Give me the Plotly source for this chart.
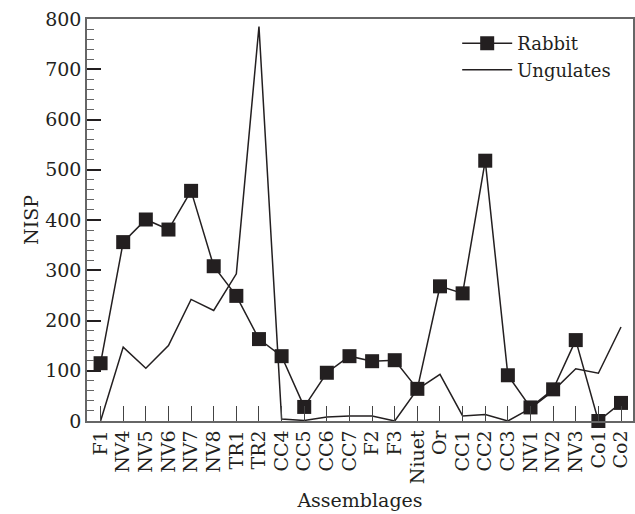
import plotly.graph_objects as go

categories = ["F1", "NV4", "NV5", "NV6", "NV7", "NV8", "TR1", "TR2", "CC4", "CC5",
              "CC6", "CC7", "F2", "F3", "Niuet", "Or", "CC1", "CC2", "CC3", "NV1",
              "NV2", "NV3", "Co1", "Co2"]
rabbit = [115, 356, 401, 381, 458, 308, 249, 163, 129, 28,
          96, 129, 119, 121, 64, 268, 254, 518, 91, 27,
          63, 161, 0, 36]
ungulates = [0, 147, 105, 150, 242, 220, 293, 785, 4, 1,
             8, 10, 10, 0, 63, 93, 10, 13, 0, 25,
             60, 104, 95, 187]

FONT = "DejaVu Serif"
INK = "#231f20"

fig = go.Figure()
fig.add_trace(go.Scatter(
    x=categories, y=rabbit, name="Rabbit", mode="lines+markers",
    line=dict(color=INK, width=1.5),
    marker=dict(symbol="square", size=14, color=INK),
    cliponaxis=False,
))
fig.add_trace(go.Scatter(
    x=categories, y=ungulates, name="Ungulates", mode="lines",
    line=dict(color=INK, width=1.5),
    cliponaxis=False,
))

fig.update_layout(
    width=635, height=514,
    margin=dict(l=87, r=2, t=19, b=93, autoexpand=False),
    paper_bgcolor="white", plot_bgcolor="white",
    font=dict(family=FONT, size=19, color=INK),
    showlegend=True,
    legend=dict(x=0.678, y=0.985, xanchor="left", yanchor="top",
                bgcolor="rgba(0,0,0,0)", font=dict(size=18, family=FONT),
                itemwidth=50, tracegroupgap=0),
    xaxis=dict(
        type="category", range=[-0.6, 23.53], dtick=1, automargin=False,
        showline=True, linecolor="#666666", linewidth=1.5, mirror=True,
        ticks="inside", ticklen=15, tickwidth=1.2, tickcolor="#444444",
        tickangle=-90, tickfont=dict(size=19, family=FONT),
        showgrid=False, zeroline=False,
        title=dict(text="Assemblages", font=dict(size=19, family=FONT), standoff=11),
    ),
    yaxis=dict(
        range=[0, 800], dtick=100, tick0=0, automargin=False,
        showline=True, linecolor="#666666", linewidth=1.5, mirror=True,
        ticks="inside", ticklen=14, tickwidth=1.5, tickcolor=INK,
        minor=dict(dtick=20, ticks="inside", ticklen=7, tickwidth=1.2, tickcolor="#666666", showgrid=False),
        tickfont=dict(size=19, family=FONT),
        showgrid=False, zeroline=False,
        title=dict(text="NISP", font=dict(size=19, family=FONT), standoff=2),
    ),
)

fig.write_html("out.html", config={"displayModeBar": False},
               post_script="document.body.style.margin='0px';")
